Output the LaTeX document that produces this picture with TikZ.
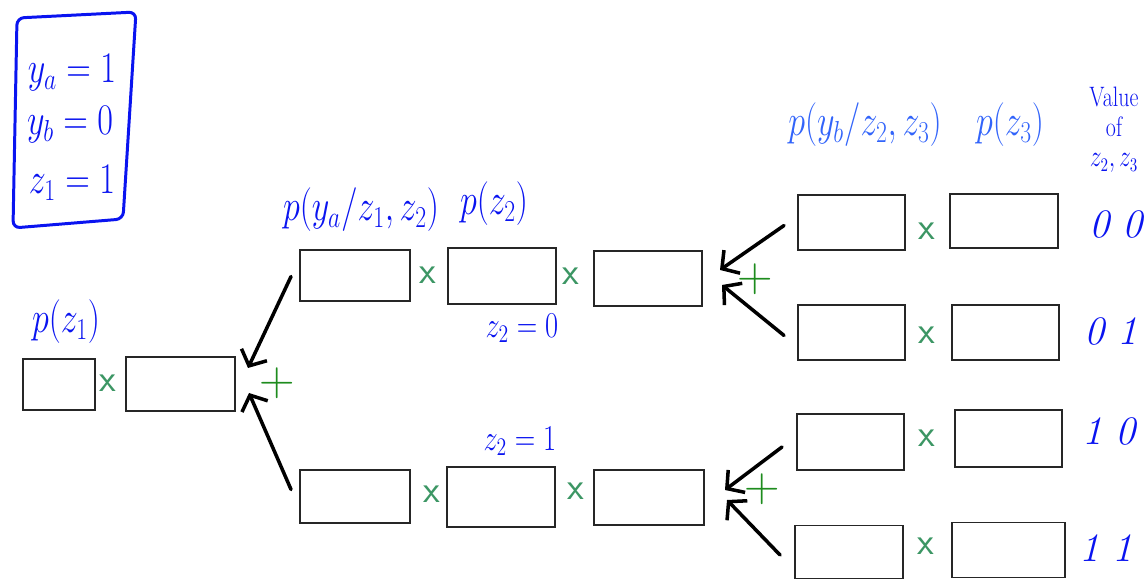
\documentclass[tikz,border=0pt]{standalone}
\usepackage{graphicx}
\usetikzlibrary{arrows.meta,calc}
\definecolor{penblue}{RGB}{10,20,240}
\definecolor{lightblue}{RGB}{50,100,250}
\definecolor{penX}{RGB}{60,150,100}
\definecolor{penplus}{RGB}{30,140,30}
\tikzset{
 box/.style={draw=black!85, line width=1.1pt, inner sep=0pt},
 bx/.style 2 args={box, minimum width=#1*0.02cm, minimum height=#2*0.02cm},
 arr/.style={line width=2pt, line cap=round, -{Straight Barb[length=7pt,width=16pt,line width=2pt]}},
 times/.style={text=penX, font=\fontsize{22}{24}\selectfont\sffamily, inner sep=0pt},
 plus/.style={text=penplus, font=\fontsize{28}{30}\selectfont, inner sep=0pt},
 lbl/.style={text=penblue, inner sep=0pt},
 lbr/.style={text=lightblue, inner sep=0pt},
 digits/.style={text=penblue, inner sep=0pt, font=\fontsize{23}{24}\selectfont\itshape},
}
\newcommand{\cond}[1]{\scalebox{0.78}[1]{#1}}
\begin{document}
\begin{tikzpicture}[x=0.02cm,y=-0.02cm]
\useasboundingbox (0,0) rectangle (1147,580);
% given values
\draw[draw=penblue, line width=1.7pt, rounded corners=4pt] (17,18) -- (136,12) -- (123,219) -- (13,228) -- cycle;
\node[lbl, font=\fontsize{24}{26}\selectfont] (ya) at (72,73) {\cond{$y_a=1$}};
\node[lbl, font=\fontsize{24}{26}\selectfont] (yb) at (70,125) {\cond{$y_b=0$}};
\node[lbl, font=\fontsize{24}{26}\selectfont] (z1) at (72,183) {\cond{$z_1=1$}};
% boxes
\node[bx={72}{51}] (A) at (59,384.5) {};
\node[bx={109}{54}] (B) at (180.5,384) {};
\node[bx={110}{51}] (C1) at (355,275.5) {};
\node[bx={108}{56}] (C2) at (502,276) {};
\node[bx={108}{55}] (C3) at (648,278.5) {};
\node[bx={110}{53}] (D1) at (355,496.5) {};
\node[bx={108}{60}] (D2) at (501,497) {};
\node[bx={110}{55}] (D3) at (649,497.5) {};
\node[bx={107}{55}] (E1) at (851.5,222.5) {};
\node[bx={108}{54}] (F1) at (1004,221) {};
\node[bx={107}{55}] (E2) at (851.5,332.5) {};
\node[bx={107}{55}] (F2) at (1005.5,332.5) {};
\node[bx={107}{56}] (E3) at (850.5,442) {};
\node[bx={107}{57}] (F3) at (1008.5,438.5) {};
\node[bx={108}{53}] (E4) at (849,552) {};
\node[bx={113}{55}] (F4) at (1008.5,550) {};
% multiplication signs
\node[times] (m1) at (108,383) {x};
\node[times] (m2) at (428,275) {x};
\node[times] (m3) at (571,276) {x};
\node[times] (m4) at (432,494) {x};
\node[times] (m5) at (576,491) {x};
\node[times] (m6) at (927,231) {x};
\node[times] (m7) at (927,335) {x};
\node[times] (m8) at (927,438) {x};
\node[times] (m9) at (926,546) {x};
% plus signs
\node[plus] (p1) at (277,383) {+};
\node[plus] (p2) at (755,279) {+};
\node[plus] (p3) at (762,489) {+};
% arrow tips
\coordinate (t1) at (248,368);
\coordinate (t2) at (249,393);
\coordinate (t3) at (720,270);
\coordinate (t4) at (722,285);
\coordinate (t5) at (725,490);
\coordinate (t6) at (727,500);
\draw[arr] ($(C1.west)+(-8,1)$) -- (t1);
\draw[arr] ($(D1.west)+(-8,-7)$) -- (t2);
\draw[arr] ($(E1.west)+(-13,3)$) -- (t3);
\draw[arr] ($(E2.west)+(-13,3)$) -- (t4);
\draw[arr] ($(E3.west)+(-14,5)$) -- (t5);
\draw[arr] ($(E4.west)+(-14,3)$) -- (t6);
% labels
\node[lbl, font=\fontsize{24}{26}\selectfont] (lz1) at (66,322) {\cond{$p(z_1)$}};
\node[lbl, font=\fontsize{23}{26}\selectfont] (lya) at (361,210) {\cond{$p(y_a/z_1,z_2)$}};
\node[lbl, font=\fontsize{26}{28}\selectfont] (lz2) at (494,204) {\cond{$p(z_2)$}};
\node[lbl, font=\fontsize{20}{22}\selectfont] (z20) at (522,328) {\cond{$z_2=0$}};
\node[lbl, font=\fontsize{22}{24}\selectfont] (z21) at (520,441) {\cond{$z_2=1$}};
\node[lbr, font=\fontsize{23}{26}\selectfont] (lyb) at (865,125) {\cond{$p(y_b/z_2,z_3)$}};
\node[lbr, font=\fontsize{26}{28}\selectfont] (lz3) at (1010,125) {\cond{$p(z_3)$}};
\node[lbl, font=\fontsize{16}{17}\selectfont, align=center] (val) at (1114,130) {\cond{Value}\\\cond{of}\\\cond{$z_2,z_3$}};
\node[digits] (v1) at (1116,224) {0\,\,0};
\node[digits] (v2) at (1111,331) {0\,\,1};
\node[digits] (v3) at (1109,431) {1\,\,0};
\node[digits] (v4) at (1106,548) {1\,\,1};
\end{tikzpicture}
\end{document}
